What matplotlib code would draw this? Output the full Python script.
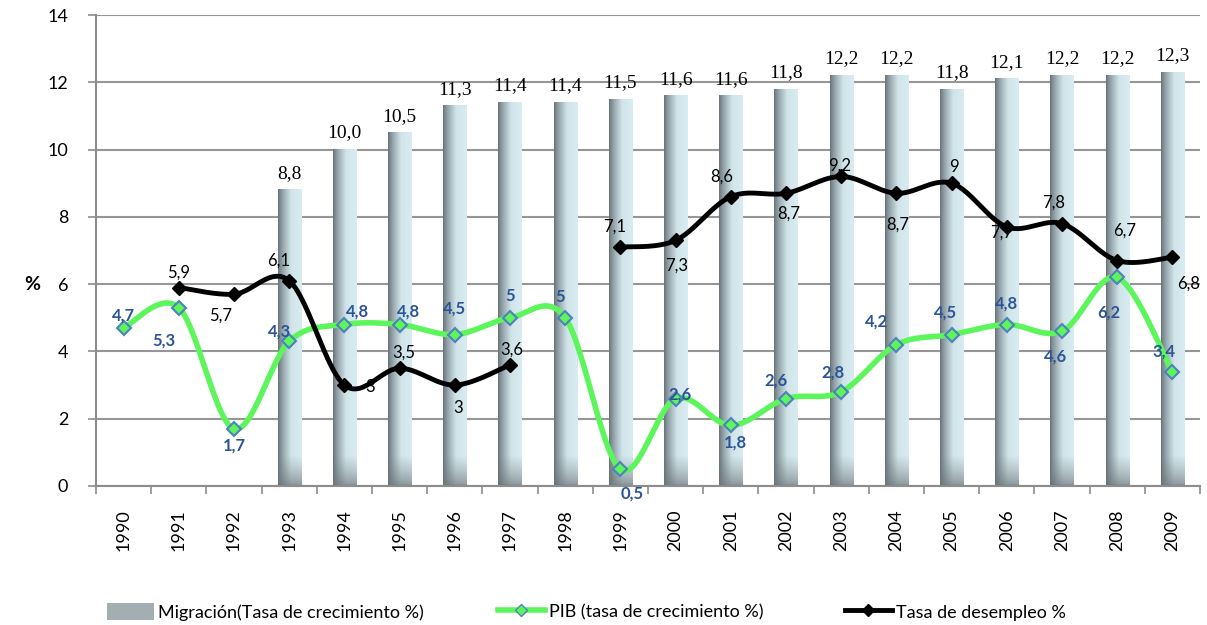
import numpy as np
import matplotlib.pyplot as plt
from matplotlib.lines import Line2D
from matplotlib.patches import Patch

# ---------------- DATA ----------------
years = [str(y) for y in range(1990, 2010)]
migracion = [np.nan, np.nan, np.nan, 8.8, 10.0, 10.5, 11.3, 11.4, 11.4, 11.5,
             11.6, 11.6, 11.8, 12.2, 12.2, 11.8, 12.1, 12.2, 12.2, 12.3]
pib = [4.7, 5.3, 1.7, 4.3, 4.8, 4.8, 4.5, 5, 5, 0.5,
       2.6, 1.8, 2.6, 2.8, 4.2, 4.5, 4.8, 4.6, 6.2, 3.4]
desempleo = [np.nan, 5.9, 5.7, 6.1, 3, 3.5, 3, 3.6, np.nan, 7.1,
             7.3, 8.6, 8.7, 9.2, 8.7, 9, 7.7, 7.8, 6.7, 6.8]

# label offsets (pixels) - placement only
pib_off = [(0, 12), (-15, -33), (0, -17), (-10, 10), (13, 13), (9, 13), (0, 26),
           (0, 22), (-5, 21), (12, -24), (4, 4), (5, -17), (-10, 18), (-8, 19),
           (-20, 23), (-6, 22), (0, 21), (-6, -25), (-8, -35), (-8, 20)]
des_off = [(0, 0), (0, 15), (-13, -21), (-11, 20), (26, -2), (4, 16), (3, -23),
           (2, 15), (0, 0), (-6, 21), (1, -25), (-9, 20), (3, -20), (-2, 11),
           (1, -31), (2, 16), (-5, -6), (-8, 21), (7, 30), (16, -26)]

FONT = "Lato"
plt.rcParams['font.family'] = [FONT, 'DejaVu Sans']


def smooth(x, y, n=30):
    # Catmull-Rom style bezier through points (Excel-like smoothed line)
    x = np.asarray(x, float)
    y = np.asarray(y, float)
    if len(x) < 2:
        return x, y
    px = np.concatenate([[x[0]], x, [x[-1]]])
    py = np.concatenate([[y[0]], y, [y[-1]]])
    outx, outy = [], []
    t = np.linspace(0, 1, n)
    for i in range(1, len(px) - 2):
        p0 = np.array([px[i], py[i]])
        p3 = np.array([px[i + 1], py[i + 1]])
        c1 = p0 + (np.array([px[i + 1], py[i + 1]]) - np.array([px[i - 1], py[i - 1]])) / 6
        c2 = p3 - (np.array([px[i + 2], py[i + 2]]) - np.array([px[i], py[i]])) / 6
        b = ((1 - t) ** 3)[:, None] * p0 + (3 * (1 - t) ** 2 * t)[:, None] * c1 \
            + (3 * (1 - t) * t ** 2)[:, None] * c2 + (t ** 3)[:, None] * p3
        outx.extend(b[:, 0])
        outy.extend(b[:, 1])
    return np.array(outx), np.array(outy)


def runs(vals):
    out, cur = [], []
    for i, v in enumerate(vals):
        if np.isnan(v):
            if cur:
                out.append(cur)
            cur = []
        else:
            cur.append(i)
    if cur:
        out.append(cur)
    return out


fig = plt.figure(figsize=(12.07, 6.25), dpi=100)
ax = fig.add_axes([96 / 1207, 1 - 486 / 625, 1104 / 1207, 471 / 625])
x = np.arange(len(years))

# ---------------- BARS (gradient) ----------------
left_c = np.array([0x66, 0x72, 0x78]) / 255
mid_c = np.array([0xd0, 0xe4, 0xea]) / 255
right_c = np.array([0xda, 0xec, 0xf2]) / 255
dark_c = np.array([0x6a, 0x72, 0x76]) / 255
bw = 0.42
u = np.linspace(0, 1, 60)
prof = np.where(u[:, None] < 0.55,
                left_c + (mid_c - left_c) * (u[:, None] / 0.55) ** 0.8,
                mid_c + (right_c - mid_c) * ((u[:, None] - 0.55) / 0.45))
for i, h in enumerate(migracion):
    if np.isnan(h):
        continue
    ys = np.linspace(0, h, 300)
    f = np.clip(ys / 0.9, 0, 1)[:, None, None] ** 0.7
    img = prof[None, :, :] * f + (dark_c * 0.75 + prof[None, :, :] * 0.25) * (1 - f)
    ax.imshow(img, extent=(i - bw / 2, i + bw / 2, 0, h), origin='lower',
              aspect='auto', zorder=2, interpolation='bilinear')
    ax.annotate(f"{h:.1f}".replace('.', ','), (i, h), xytext=(0, 8),
                textcoords='offset pixels', ha='center', va='bottom',
                fontsize=14, family='Liberation Serif', color='black', zorder=6)

# ---------------- PIB ----------------
sx, sy = smooth(x, pib)
ax.plot(sx, sy, color='#5cf55c', lw=4, zorder=3, solid_capstyle='round')
ax.plot(x, pib, ls='none', marker='D', ms=7, mfc='#5cf55c', mec='#4f81bd',
        mew=1.5, zorder=4)
for i, v in enumerate(pib):
    dx, dy = pib_off[i]
    ax.annotate(f"{v:g}".replace('.', ','), (i, v), xytext=(dx, dy),
                textcoords='offset pixels', ha='center', va='center',
                fontsize=12, fontweight='bold', color='#2c5597', zorder=7)

# ---------------- DESEMPLEO ----------------
for r in runs(desempleo):
    sx, sy = smooth(x[r], np.array(desempleo)[r])
    ax.plot(sx, sy, color='black', lw=3.5, zorder=4.5, solid_capstyle='round')
ax.plot(x, desempleo, ls='none', marker='D', ms=7, color='black', zorder=5)
for i, v in enumerate(desempleo):
    if np.isnan(v):
        continue
    dx, dy = des_off[i]
    ax.annotate(f"{v:g}".replace('.', ','), (i, v), xytext=(dx, dy),
                textcoords='offset pixels', ha='center', va='center',
                fontsize=12, color='black', zorder=7)

# ---------------- AXES ----------------
ax.set_xlim(-0.5, len(years) - 0.5)
ax.set_ylim(0, 14)
ax.set_yticks(range(0, 15, 2))
ax.set_xticks(x)
ax.set_xticklabels(years, rotation=90, fontsize=13)
ax.set_xticks(np.arange(-0.5, len(years), 1), minor=True)
ax.tick_params(axis='x', which='major', length=0, pad=17)
ax.tick_params(axis='x', which='minor', length=6, color='#8c8c8c', width=1.2)
ax.tick_params(axis='y', length=6, color='#8c8c8c', width=1.2, labelsize=13, pad=14)
ax.grid(axis='y', color='#969696', lw=1.5, zorder=1)
ax.set_axisbelow(True)
for s in ['top', 'right']:
    ax.spines[s].set_visible(False)
for s in ['left', 'bottom']:
    ax.spines[s].set_color('#8c8c8c')
    ax.spines[s].set_linewidth(1.5)
fig.text(32 / 1207, 1 - 285 / 625, '%', fontsize=14, fontweight='bold',
         ha='center', va='center')

# ---------------- LEGEND ----------------
handles = [
    Patch(facecolor='#a3aeb2', edgecolor='none'),
    Line2D([], [], color='#5cf55c', lw=4, marker='D', ms=6, mfc='#5cf55c', mec='#4f81bd'),
    Line2D([], [], color='black', lw=3.5, marker='D', ms=6),
]
labels = ['Migración(Tasa de crecimiento %)', 'PIB (tasa de crecimiento %)',
          'Tasa de desempleo %']
leg_x = [107, 498, 845]
for h, lab, lx in zip(handles, labels, leg_x):
    fig.legend([h], [lab], loc='center left',
               bbox_to_anchor=(lx / 1207, 1 - 612 / 625), frameon=False,
               fontsize=13, handlelength=2.6, handletextpad=0.25,
               borderaxespad=0, borderpad=0, handleheight=1.1)

fig.savefig('out.png', dpi=100)
